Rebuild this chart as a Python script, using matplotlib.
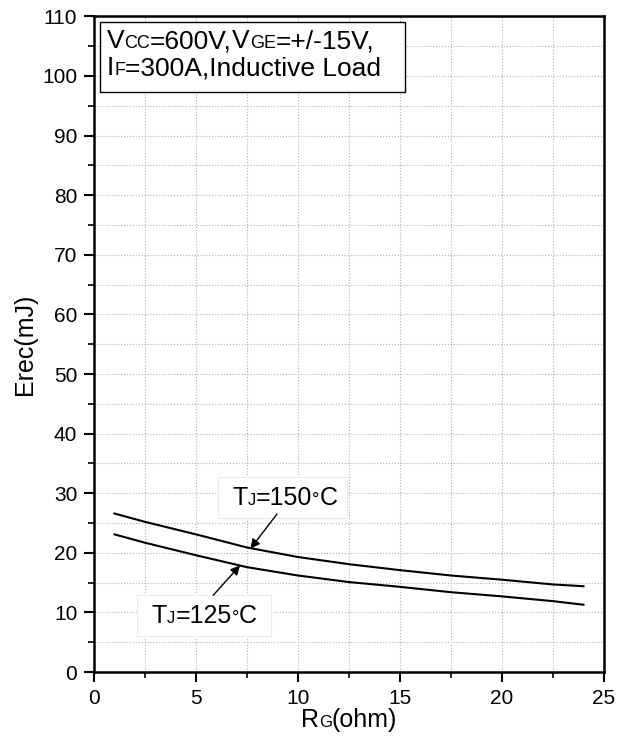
import matplotlib.pyplot as plt
from matplotlib.patches import Rectangle
from matplotlib.ticker import MultipleLocator
from matplotlib.transforms import offset_copy

plt.rcParams['font.family'] = ['Liberation Sans', 'DejaVu Sans']

# gate resistance (ohm) and reverse recovery energy (mJ)
rg = [1, 2.5, 5, 7.5, 10, 12.5, 15, 17.5, 20, 22.5, 24]
erec_150 = [26.6, 25.2, 23.1, 20.9, 19.3, 18.1, 17.1, 16.2, 15.5, 14.7, 14.4]
erec_125 = [23.1, 21.7, 19.6, 17.6, 16.2, 15.1, 14.3, 13.4, 12.7, 11.9, 11.3]

fig = plt.figure(figsize=(6.31, 7.41), dpi=100)
ax = fig.add_axes([0.149, 0.093, 0.808, 0.885])

ax.plot(rg, erec_150, color='black', lw=1.5, zorder=3)
ax.plot(rg, erec_125, color='black', lw=1.5, zorder=3)

ax.set_xlim(0, 25)
ax.set_ylim(0, 110)
ax.xaxis.set_major_locator(MultipleLocator(5))
ax.xaxis.set_minor_locator(MultipleLocator(2.5))
ax.yaxis.set_major_locator(MultipleLocator(10))
ax.yaxis.set_minor_locator(MultipleLocator(5))
ax.grid(True, which='both', ls=':', color='#b0b0b0', lw=0.8)
ax.tick_params(which='major', direction='out', length=7, width=1.5, labelsize=15, pad=5)
ax.tick_params(which='minor', direction='out', length=4, width=1.2)
for s in ax.spines.values():
    s.set_linewidth(1.8)

renderer = fig.canvas.get_renderer()


def rich_text(x, y, pieces, transform, ha='left'):
    # draw a run of text pieces with different sizes on one baseline
    arts = []
    t = transform
    total = 0
    for s, size in pieces:
        txt = ax.text(x, y, s, fontsize=size, transform=t, va='baseline', ha='left', zorder=5)
        w = txt.get_window_extent(renderer).width
        arts.append((txt, total))
        total += w
        t = offset_copy(t, x=w, units='dots', fig=fig)
    if ha == 'center':
        for txt, off in arts:
            txt.set_transform(offset_copy(transform, x=off - total / 2, units='dots', fig=fig))
    return arts


big, small = 19, 13
ax.add_patch(Rectangle((0.012, 0.884), 0.598, 0.107, transform=ax.transAxes,
                       facecolor='white', edgecolor='black', lw=1, zorder=4))
rich_text(0.025, 0.951, [('V', big), ('CC', small), ('=600V,', big), ('V', big), ('GE', small),
                         ('=+/-15V,', big)], ax.transAxes)
rich_text(0.025, 0.910, [('I', big), ('F', small), ('=300A,Inductive Load', big)], ax.transAxes)

# curve labels, each on a faint white box
ax.add_patch(Rectangle((6.1, 25.8), 6.3, 7.0, facecolor='white', edgecolor='#ececec',
                       lw=0.8, zorder=2.5))
ax.add_patch(Rectangle((2.1, 6.0), 6.6, 7.0, facecolor='white', edgecolor='#ececec',
                       lw=0.8, zorder=2.5))
lab = 18
rich_text(9.35, 28.0, [('T', lab), ('J', 12), ('=150', lab), ('°', 13), ('C', lab)],
          ax.transData, ha='center')
rich_text(5.42, 8.3, [('T', lab), ('J', 12), ('=125', lab), ('°', 13), ('C', lab)],
          ax.transData, ha='center')
arrow = dict(arrowstyle='-|>', color='black', lw=1, mutation_scale=14, shrinkA=0, shrinkB=0)
ax.annotate('', xy=(7.67, 20.7), xytext=(8.97, 26.5), arrowprops=arrow, zorder=4)
ax.annotate('', xy=(7.16, 17.9), xytext=(5.85, 12.9), arrowprops=arrow, zorder=4)

# axis labels
ax.set_ylabel('Erec(mJ)', fontsize=18, labelpad=4)
xl = rich_text(0.5, -0.084, [('R', 18), ('G', 12), ('(ohm)', 18)], ax.transAxes, ha='center')
for txt, _ in xl:
    txt.set_clip_on(False)

fig.savefig('out.png', dpi=100)
